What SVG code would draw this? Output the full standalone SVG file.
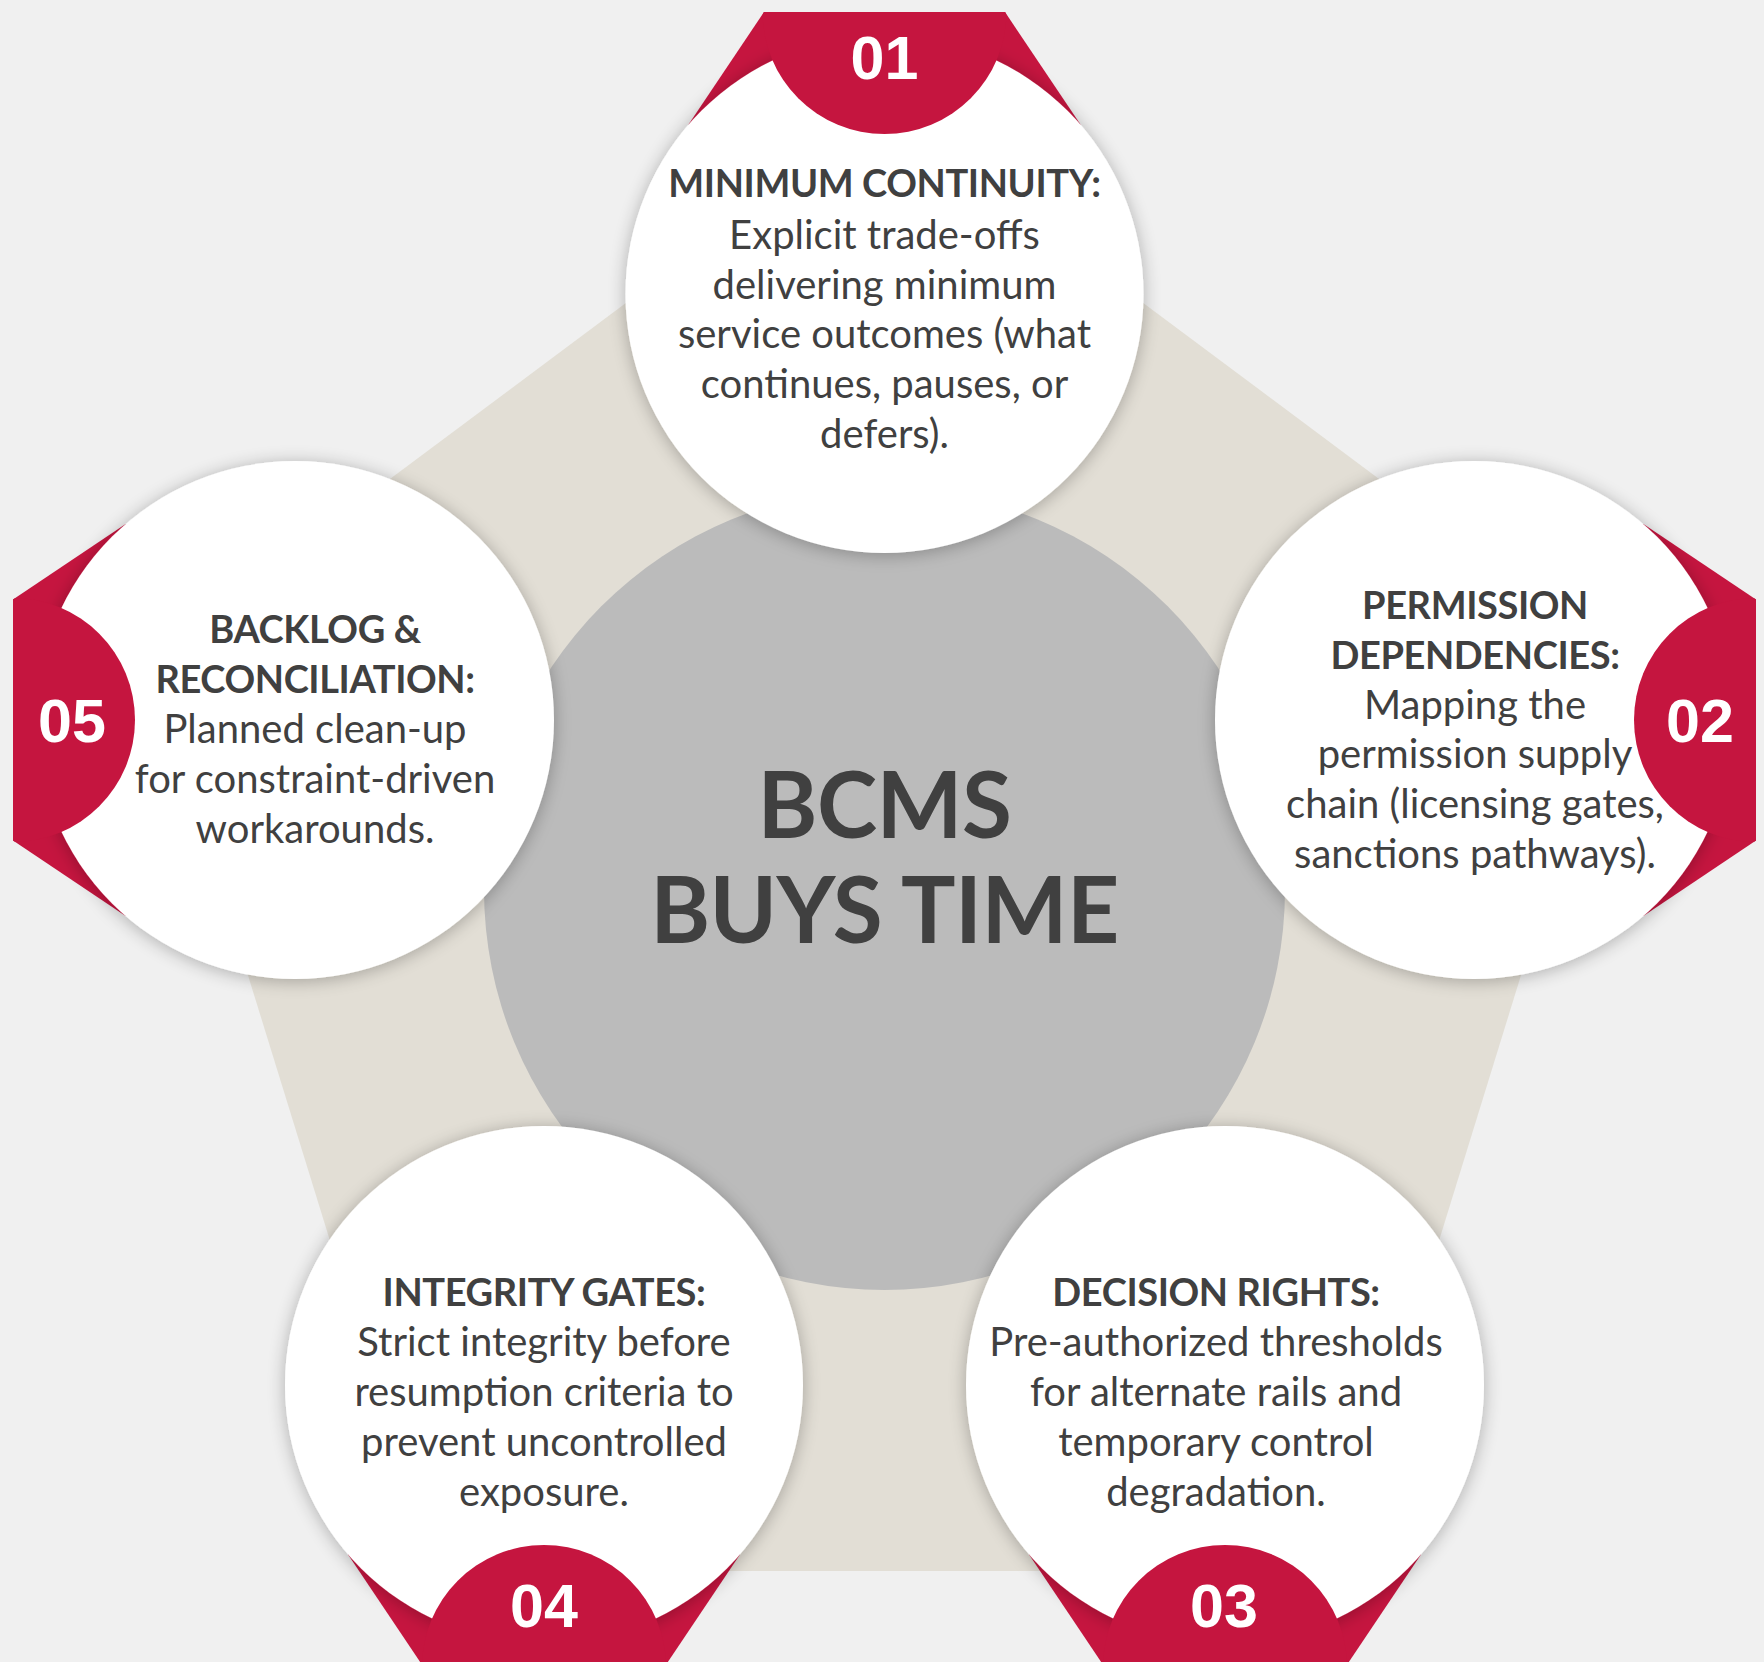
<svg xmlns="http://www.w3.org/2000/svg" width="1764" height="1662" viewBox="0 0 1764 1662">
  <defs>
    <style>
      .bg { fill: #f0f0f0; }
      .pent { fill: #e2ded5; }
      .core { fill: #bbbbbb; }
      .red { fill: #c5153f; }
      .disc { fill: #ffffff; filter: url(#shadow); }
      .num { font-family: "Liberation Sans", Arial, sans-serif; font-weight: 700; font-size: 61px; fill: #ffffff; text-anchor: middle; }
      .title { font-family: Lato, "Liberation Sans", sans-serif; font-weight: 700; font-size: 38px; letter-spacing: -0.4px; fill: #404040; text-anchor: middle; }
      .body { font-family: Lato, "Liberation Sans", sans-serif; font-weight: 400; font-size: 40px; fill: #404040; text-anchor: middle; }
      .center { font-family: Lato, "Liberation Sans", sans-serif; font-weight: 700; font-size: 91px; letter-spacing: -0.5px; fill: #404040; text-anchor: middle; }
    </style>
    <clipPath id="badgeClip">
      <polygon points="-120.5,-282 120.5,-282 196,-169.4 0,0 -196,-169.4"/>
    </clipPath>
    <filter id="shadow" x="-20%" y="-20%" width="140%" height="140%">
      <feGaussianBlur in="SourceAlpha" stdDeviation="9"/>
      <feOffset dx="0" dy="2" result="b"/>
      <feComponentTransfer><feFuncA type="linear" slope="0.28"/></feComponentTransfer>
      <feMerge><feMergeNode/><feMergeNode in="SourceGraphic"/></feMerge>
    </filter>
    <g id="badgeBack">
      <polygon class="red" points="-120.5,-282 120.5,-282 196,-169.4 0,0 -196,-169.4"/>
    </g>
    <g id="badgeFront">
      <circle class="red" cx="0" cy="-282" r="122" clip-path="url(#badgeClip)"/>
    </g>
  </defs>

  <rect class="bg" x="0" y="0" width="1764" height="1662"/>

  <g id="background">
    <polygon class="pent" points="884.5,110 1619,658 1337,1571 432,1571 150,658"/>
    <circle class="core" cx="884.5" cy="889.5" r="400.5"/>
  </g>

  <g id="connectors"></g>

  <g id="center-node">
    <text class="center" x="884.5" y="838">BCMS</text>
    <text class="center" x="884.5" y="943">BUYS TIME</text>
  </g>

  <g id="node-01">
    <use href="#badgeBack" transform="translate(884.5,294)"/>
    <circle class="disc" cx="884.5" cy="294" r="259"/>
    <use href="#badgeFront" transform="translate(884.5,294)"/>
    <text class="num" x="884.5" y="79">01</text>
    <text class="title" x="884.5" y="197">MINIMUM CONTINUITY:</text>
    <text class="body" x="884.5" y="249">Explicit trade-offs</text>
    <text class="body" x="884.5" y="299">delivering minimum</text>
    <text class="body" x="884.5" y="348">service outcomes (what</text>
    <text class="body" x="884.5" y="398">continues, pauses, or</text>
    <text class="body" x="884.5" y="448">defers).</text>
  </g>

  <g id="node-02">
    <use href="#badgeBack" transform="translate(1474,720) rotate(90)"/>
    <circle class="disc" cx="1474" cy="720" r="259"/>
    <use href="#badgeFront" transform="translate(1474,720) rotate(90)"/>
    <text class="num" x="1700" y="742">02</text>
    <text class="title" x="1475" y="619">PERMISSION</text>
    <text class="title" x="1475" y="669">DEPENDENCIES:</text>
    <text class="body" x="1475" y="719">Mapping the</text>
    <text class="body" x="1475" y="768">permission supply</text>
    <text class="body" x="1475" y="818">chain (licensing gates,</text>
    <text class="body" x="1475" y="868">sanctions pathways).</text>
  </g>

  <g id="node-03">
    <use href="#badgeBack" transform="translate(1225,1385) rotate(180)"/>
    <circle class="disc" cx="1225" cy="1385" r="259"/>
    <use href="#badgeFront" transform="translate(1225,1385) rotate(180)"/>
    <text class="num" x="1224" y="1627">03</text>
    <text class="title" x="1216" y="1306">DECISION RIGHTS:</text>
    <text class="body" x="1216" y="1356">Pre-authorized thresholds</text>
    <text class="body" x="1216" y="1406">for alternate rails and</text>
    <text class="body" x="1216" y="1456">temporary control</text>
    <text class="body" x="1216" y="1506">degradation.</text>
  </g>

  <g id="node-04">
    <use href="#badgeBack" transform="translate(544,1385) rotate(180)"/>
    <circle class="disc" cx="544" cy="1385" r="259"/>
    <use href="#badgeFront" transform="translate(544,1385) rotate(180)"/>
    <text class="num" x="544" y="1627">04</text>
    <text class="title" x="544" y="1306">INTEGRITY GATES:</text>
    <text class="body" x="544" y="1356">Strict integrity before</text>
    <text class="body" x="544" y="1406">resumption criteria to</text>
    <text class="body" x="544" y="1456">prevent uncontrolled</text>
    <text class="body" x="544" y="1506">exposure.</text>
  </g>

  <g id="node-05">
    <use href="#badgeBack" transform="translate(295,720) rotate(-90)"/>
    <circle class="disc" cx="295" cy="720" r="259"/>
    <use href="#badgeFront" transform="translate(295,720) rotate(-90)"/>
    <text class="num" x="72" y="742">05</text>
    <text class="title" x="315" y="643">BACKLOG &amp;</text>
    <text class="title" x="315" y="693">RECONCILIATION:</text>
    <text class="body" x="315" y="743">Planned clean-up</text>
    <text class="body" x="315" y="793">for constraint-driven</text>
    <text class="body" x="315" y="843">workarounds.</text>
  </g>
</svg>
